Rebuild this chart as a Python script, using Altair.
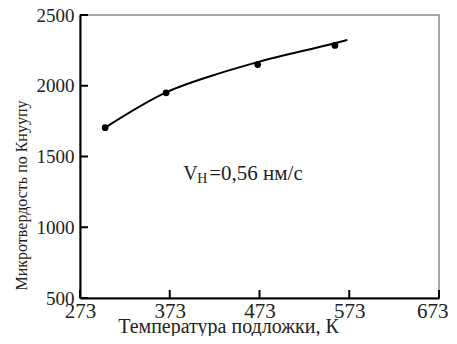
import altair as alt
import pandas as pd

# measured points
temp_pts = [301, 369, 471, 557]
hard_pts = [1704, 1950, 2150, 2285]

# fitted curve
temp_curve = [301, 369, 429, 471, 557, 571]
hard_curve = [1704, 1953, 2089, 2167, 2301, 2324]

x_ticks = [273, 373, 473, 573, 673]
y_ticks = [500, 1000, 1500, 2000, 2500]

ann_x = [388]
ann_y = [1334]

FONT = "'Liberation Serif', 'Times New Roman', serif"
W, H = 359, 283

pts = pd.DataFrame({"t": temp_pts, "h": hard_pts})
curve = pd.DataFrame({"t": temp_curve, "h": hard_curve})
xt = pd.DataFrame({"t": x_ticks})
yt = pd.DataFrame({"h": y_ticks})
ann = pd.DataFrame({"t": ann_x, "h": ann_y})

xs = alt.Scale(domain=[273, 673], nice=False, zero=False)
ys = alt.Scale(domain=[500, 2500], nice=False, zero=False)

xaxis = alt.Axis(values=x_ticks, format="d", ticks=False, grid=False, domainColor="black",
                 domainWidth=2, labelFontSize=21, labelFont=FONT, labelColor="#222",
                 labelPadding=2, title="Температура подложки, К", titleFont=FONT,
                 titleFontSize=20, titleFontWeight="normal", titleColor="#222",
                 titleX=148, titleY=34, titleBaseline="alphabetic", labelFlush=False,
                 labelAlign={"condition": {"test": "datum.value == 673", "value": "right"},
                             "value": "center"},
                 labelOffset={"condition": {"test": "datum.value == 673", "value": 9},
                              "value": 0})
yaxis = alt.Axis(values=y_ticks, format="d", ticks=False, grid=False, domainColor="black",
                 domainWidth=2, labelFontSize=19, labelFont=FONT, labelColor="#222",
                 labelPadding=6, title="Микротвердость по Кнуупу", titleFont=FONT,
                 titleFontSize=16, titleFontWeight="normal", titleColor="#222",
                 titleX=-59, titleY=180, titleBaseline="middle", titleAngle=270,
                 labelFlush=False)

line = alt.Chart(curve).mark_line(color="black", strokeWidth=2, interpolate="monotone").encode(
    x=alt.X("t:Q", scale=xs, axis=xaxis),
    y=alt.Y("h:Q", scale=ys, axis=yaxis),
)
dots = alt.Chart(pts).mark_circle(color="black", size=45, opacity=1).encode(
    x=alt.X("t:Q", scale=xs), y=alt.Y("h:Q", scale=ys))

ytick = alt.Chart(yt).mark_rule(color="black", strokeWidth=2).encode(
    y=alt.Y("h:Q", scale=ys), x=alt.value(0), x2=alt.value(8))
xtick = alt.Chart(xt).mark_rule(color="black", strokeWidth=2).encode(
    x=alt.X("t:Q", scale=xs), y=alt.value(H), y2=alt.value(H - 8))

common = dict(font=FONT, color="#222", align="left", baseline="alphabetic")
t1 = alt.Chart(ann).mark_text(text="V", fontSize=20, **common).encode(
    x=alt.X("t:Q", scale=xs), y=alt.Y("h:Q", scale=ys))
t2 = alt.Chart(ann).mark_text(text="Н", fontSize=14, dx=14, dy=3, **common).encode(
    x=alt.X("t:Q", scale=xs), y=alt.Y("h:Q", scale=ys))
t3 = alt.Chart(ann).mark_text(text="=0,56 нм/с", fontSize=21, dx=26, **common).encode(
    x=alt.X("t:Q", scale=xs), y=alt.Y("h:Q", scale=ys))

chart = alt.layer(line, dots, ytick, xtick, t1, t2, t3).properties(
    width=W, height=H,
    autosize=alt.AutoSizeParams(type="none"),
    padding={"left": 72, "top": 7, "right": 10, "bottom": 38},
    background="white",
).configure_view(stroke="#8a8a8a", strokeWidth=1.5)

chart.save("out.html", embed_options={"renderer": "svg", "actions": False})
